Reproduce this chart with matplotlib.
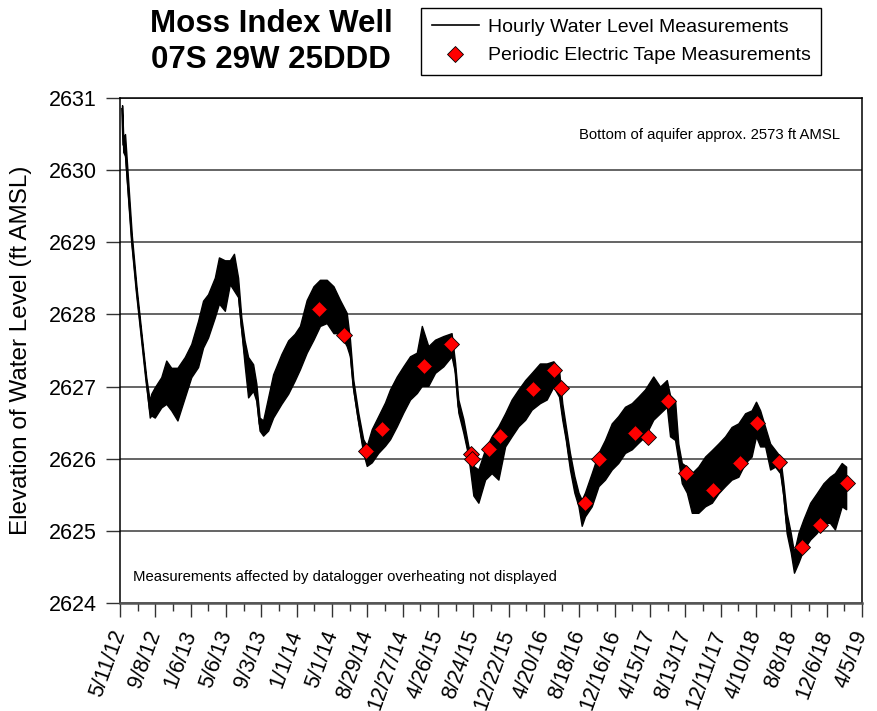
import matplotlib.pyplot as plt
import matplotlib.transforms as mtransforms
from matplotlib.lines import Line2D
import pandas as pd

plt.rcParams['font.family'] = ['Liberation Sans', 'DejaVu Sans']

# hourly_day = days after 5/11/12
record_start = '5/11/12'
hourly_day = [7, 11, 17, 40, 56, 73, 89, 101, 106, 118, 140, 157, 174, 195, 220, 242,
              265, 282, 299, 322, 336, 356, 373, 387, 401, 412, 423, 435, 452, 463,
              474, 486, 503, 520, 548, 571, 593, 611, 634, 657, 679, 702, 725, 747,
              770, 781, 792, 809, 826, 838, 855, 877, 900, 917, 940, 962, 985, 1008,
              1025, 1047, 1070, 1098, 1126, 1138, 1149, 1166, 1183, 1200, 1217, 1240,
              1262, 1285, 1308, 1330, 1353, 1376, 1398, 1426, 1449, 1472, 1491, 1502,
              1514, 1528, 1543, 1557, 1568, 1579, 1602, 1625, 1647, 1670, 1692, 1715,
              1738, 1760, 1783, 1811, 1834, 1857, 1868, 1885, 1896, 1908, 1925, 1942,
              1964, 1987, 2010, 2032, 2055, 2077, 2100, 2123, 2145, 2160, 2174, 2191,
              2208, 2225, 2242, 2253, 2264, 2278, 2289, 2304, 2321, 2344, 2366, 2389,
              2411, 2428, 2451, 2466]
hourly_low = [2630.80, 2630.25, 2630.20, 2628.95, 2628.28, 2627.64, 2627.04, 2626.57,
              2626.60, 2626.57, 2626.71, 2626.76, 2626.67, 2626.53, 2626.85, 2627.13,
              2627.27, 2627.54, 2627.68, 2627.96, 2628.15, 2628.05, 2628.42, 2628.33,
              2628.24, 2627.78, 2627.31, 2626.85, 2626.94, 2626.80, 2626.39, 2626.32,
              2626.39, 2626.57, 2626.76, 2626.90, 2627.08, 2627.24, 2627.47, 2627.65,
              2627.84, 2627.88, 2627.74, 2627.74, 2627.56, 2627.42, 2626.96, 2626.50,
              2626.08, 2625.90, 2625.95, 2626.08, 2626.18, 2626.27, 2626.45, 2626.64,
              2626.82, 2626.91, 2627.01, 2627.01, 2627.19, 2627.28, 2627.42, 2627.19,
              2626.64, 2626.36, 2626.04, 2625.49, 2625.39, 2625.71, 2625.80, 2625.71,
              2626.17, 2626.31, 2626.45, 2626.54, 2626.68, 2626.77, 2626.82, 2627.00,
              2626.86, 2626.54, 2626.26, 2625.85, 2625.53, 2625.34, 2625.07, 2625.20,
              2625.34, 2625.62, 2625.71, 2625.85, 2625.94, 2626.08, 2626.13, 2626.22,
              2626.31, 2626.54, 2626.63, 2626.72, 2626.31, 2626.26, 2625.98, 2625.66,
              2625.53, 2625.25, 2625.25, 2625.34, 2625.39, 2625.52, 2625.62, 2625.71,
              2625.75, 2625.94, 2626.03, 2626.31, 2626.17, 2626.17, 2625.85, 2625.89,
              2625.80, 2625.48, 2624.97, 2624.70, 2624.42, 2624.56, 2624.74, 2624.88,
              2624.97, 2625.11, 2625.11, 2625.02, 2625.34, 2625.30]
hourly_high = [2630.90, 2630.45, 2630.50, 2629.10, 2628.38, 2627.73, 2627.13, 2626.80,
               2626.90, 2626.99, 2627.13, 2627.36, 2627.26, 2627.26, 2627.41, 2627.59,
               2627.91, 2628.19, 2628.28, 2628.51, 2628.79, 2628.75, 2628.75, 2628.84,
               2628.51, 2627.96, 2627.64, 2627.41, 2627.31, 2627.04, 2626.57, 2626.53,
               2626.85, 2627.17, 2627.45, 2627.64, 2627.73, 2627.84, 2628.20, 2628.39,
               2628.48, 2628.48, 2628.39, 2628.20, 2628.02, 2627.65, 2627.10, 2626.64,
               2626.27, 2626.18, 2626.41, 2626.59, 2626.78, 2626.96, 2627.14, 2627.28,
               2627.42, 2627.47, 2627.84, 2627.56, 2627.65, 2627.70, 2627.74, 2627.33,
               2626.82, 2626.55, 2626.18, 2625.90, 2625.85, 2626.13, 2626.31, 2626.45,
               2626.63, 2626.82, 2626.96, 2627.09, 2627.19, 2627.32, 2627.32, 2627.35,
               2627.23, 2626.77, 2626.45, 2626.08, 2625.76, 2625.53, 2625.43, 2625.53,
               2625.80, 2626.08, 2626.26, 2626.49, 2626.59, 2626.72, 2626.77, 2626.86,
               2626.96, 2627.14, 2627.00, 2627.09, 2626.88, 2626.81, 2626.21, 2625.94,
               2625.89, 2625.80, 2625.89, 2626.03, 2626.12, 2626.21, 2626.31, 2626.44,
               2626.49, 2626.63, 2626.67, 2626.79, 2626.67, 2626.44, 2626.21, 2626.12,
               2626.03, 2625.66, 2625.25, 2624.97, 2624.70, 2624.97, 2625.16, 2625.39,
               2625.52, 2625.66, 2625.75, 2625.80, 2625.94, 2625.89]

# Periodic electric tape measurements
tape_dates = ['3/18/14', '6/12/14', '8/24/14', '10/19/14', '3/11/15', '6/8/15',
              '8/17/15', '8/19/15', '10/17/15', '11/23/15', '3/15/16', '5/25/16',
              '6/16/16', '9/7/16', '10/25/16', '2/22/17', '4/9/17', '6/14/17',
              '8/15/17', '11/16/17', '2/15/18', '4/12/18', '6/27/18', '9/12/18',
              '11/14/18', '2/12/19']
tape_levels = [2628.07, 2627.71, 2626.11, 2626.41, 2627.29, 2627.59,
               2626.07, 2626.00, 2626.13, 2626.31, 2626.96, 2627.23,
               2626.98, 2625.38, 2626.00, 2626.35, 2626.30, 2626.80,
               2625.80, 2625.57, 2625.94, 2626.50, 2625.96, 2624.78,
               2625.08, 2625.66]

tick_labels = ['5/11/12', '9/8/12', '1/6/13', '5/6/13', '9/3/13', '1/1/14', '5/1/14',
               '8/29/14', '12/27/14', '4/26/15', '8/24/15', '12/22/15', '4/20/16',
               '8/18/16', '12/16/16', '4/15/17', '8/13/17', '12/11/17', '4/10/18',
               '8/8/18', '12/6/18', '4/5/19']


def to_dates(strs):
    return pd.to_datetime(strs, format='%m/%d/%y')


start = pd.to_datetime(record_start, format='%m/%d/%y')
h_dates = start + pd.to_timedelta(hourly_day, unit='D')
t_dates = to_dates(tape_dates)
ticks = to_dates(tick_labels)
minor_ticks = ticks[:-1] + (ticks[1:] - ticks[:-1]) / 2
hourly_mid = [(lo + hi) / 2 for lo, hi in zip(hourly_low, hourly_high)]

fig = plt.figure(figsize=(8.78, 7.11), dpi=100)
ax = fig.add_axes([0.1367, 0.1519, 0.8451, 0.7103])

ax.fill_between(h_dates, hourly_low, hourly_high, color='black', lw=1.0, zorder=3)
ax.plot(h_dates, hourly_mid, color='black', lw=1.4, zorder=3)
ax.plot(t_dates, tape_levels, ls='none', marker='D', ms=8, mfc='#ff0000',
        mec='black', mew=0.6, zorder=4)

ax.set_xlim(ticks[0], ticks[-1])
ax.set_ylim(2624, 2631)
ax.set_yticks(range(2624, 2632))
ax.yaxis.grid(True, color='#3a3a3a', lw=1.1)
ax.set_axisbelow(True)

ax.set_xticks(ticks)
ax.set_xticks(minor_ticks, minor=True)
ax.set_xticklabels(tick_labels, rotation=70, ha='right', va='center',
                   rotation_mode='anchor')
offset = mtransforms.ScaledTranslation(0.09, 0, fig.dpi_scale_trans)
for lab in ax.get_xticklabels():
    lab.set_transform(lab.get_transform() + offset)

ax.tick_params(axis='both', which='major', direction='out', length=10, width=1,
               labelsize=15.5, color='#333333')
ax.tick_params(axis='x', which='major', pad=10)
ax.tick_params(axis='y', which='major', pad=7)
ax.tick_params(axis='x', which='minor', direction='out', length=6, width=1,
               color='#333333')
for sp in ax.spines.values():
    sp.set_linewidth(1.1)
ax.spines['bottom'].set_color('#555555')
ax.spines['bottom'].set_linewidth(1.8)

ax.set_ylabel('Elevation of Water Level (ft AMSL)', fontsize=17.5, labelpad=12)

ax.text(0.97, 2630.49, 'Bottom of aquifer approx. 2573 ft AMSL', fontsize=10.7,
        ha='right', va='center', transform=ax.get_yaxis_transform())
ax.text(0.0175, 2624.36, 'Measurements affected by datalogger overheating not displayed',
        fontsize=10.7, ha='left', va='center', transform=ax.get_yaxis_transform())

fig.text(0.309, 0.988, 'Moss Index Well\n07S 29W 25DDD', fontsize=22.5,
         fontweight='bold', ha='center', va='top', linespacing=1.3)

handles = [Line2D([], [], color='black', lw=1.2),
           Line2D([], [], ls='none', marker='D', ms=8, mfc='#ff0000', mec='black', mew=0.6)]
leg = fig.legend(handles, ['Hourly Water Level Measurements',
                           'Periodic Electric Tape Measurements'],
                 loc='upper left', bbox_to_anchor=(0.48, 0.989), fontsize=14,
                 fancybox=False, edgecolor='black', framealpha=1,
                 handlelength=2.4, borderpad=0.55, labelspacing=0.55, handletextpad=0.45,
                 borderaxespad=0)
leg.get_frame().set_linewidth(1.0)

fig.savefig('out.png', dpi=100)
